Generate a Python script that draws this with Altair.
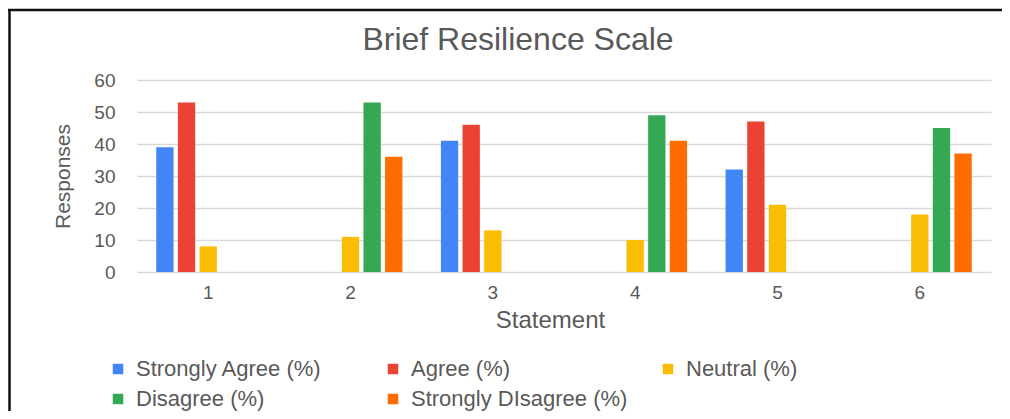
import altair as alt
import pandas as pd

statements = ["1", "2", "3", "4", "5", "6"]
series = ["Strongly Agree (%)", "Agree (%)", "Neutral (%)", "Disagree (%)", "Strongly DIsagree (%)"]
colors = ["#4285F4", "#EA4335", "#FBBC04", "#34A853", "#FF6D01"]

strongly_agree = [39, 0, 41, 0, 32, 0]
agree = [53, 0, 46, 0, 47, 0]
neutral = [8, 11, 13, 10, 21, 18]
disagree = [0, 53, 0, 49, 0, 45]
strongly_disagree = [0, 36, 0, 41, 0, 37]

y_ticks = [0, 10, 20, 30, 40, 50, 60]
chart_title = "Brief Resilience Scale"

rows = []
for s, vals in zip(series, [strongly_agree, agree, neutral, disagree, strongly_disagree]):
    for st, v in zip(statements, vals):
        rows.append({"Statement": st, "Series": s, "Value": v})
df = pd.DataFrame(rows)

FONT = "Liberation Sans"
GREY = "#595959"

W, H = 854, 192
PAD = {"left": 129, "top": 72, "right": 11, "bottom": 139}

bars = alt.Chart(df).mark_bar().encode(
    x=alt.X(
        "Statement:N",
        sort=statements,
        scale=alt.Scale(paddingInner=0.24, paddingOuter=0.12),
        axis=alt.Axis(
            title="Statement", labelAngle=0, ticks=False, domain=False,
            labelPadding=11, labelFontSize=19, labelColor=GREY,
            titleFontSize=24, titleColor=GREY, titleFontWeight="normal",
            titleX=413, titleY=48, titleBaseline="middle", titleAlign="center",
        ),
    ),
    xOffset=alt.XOffset(
        "Series:N", sort=series,
        scale=alt.Scale(paddingInner=0.2, paddingOuter=0.1),
    ),
    y=alt.Y(
        "Value:Q",
        scale=alt.Scale(domain=[0, 60]),
        axis=alt.Axis(
            values=y_ticks, title="Responses", ticks=False, domain=False,
            grid=True, gridColor="#d9d9d9", gridWidth=1.5,
            labelPadding=22, labelFontSize=19, labelColor=GREY,
            titleFontSize=21, titleColor=GREY, titleFontWeight="normal",
            titleX=-74, titleY=96, titleAngle=-90,
            titleAlign="center", titleBaseline="middle",
        ),
    ),
    color=alt.Color(
        "Series:N",
        sort=series,
        scale=alt.Scale(domain=series, range=colors),
        legend=alt.Legend(
            title=None, orient="none", legendX=-30, legendY=278,
            direction="horizontal", columns=3, gridAlign="all",
            columnPadding=29, rowPadding=8, symbolType="square",
            symbolSize=110, symbolStrokeWidth=0, labelFontSize=22,
            labelColor=GREY, labelOffset=7, labelLimit=400, padding=0,
        ),
    ),
)

frame_df = pd.DataFrame({"k": [0]})
top_line = alt.Chart(frame_df).mark_rule(color="#111", strokeWidth=2.5).encode(
    x=alt.value(-129), x2=alt.value(W + 11), y=alt.value(-70)
)
left_line = alt.Chart(frame_df).mark_rule(color="#111", strokeWidth=2.5).encode(
    x=alt.value(-127.5), y=alt.value(-71), y2=alt.value(H + 139)
)
title_text = alt.Chart(frame_df).mark_text(
    font=FONT, fontSize=32, color=GREY, align="center", baseline="alphabetic"
).encode(x=alt.value(381), y=alt.value(-30), text=alt.value(chart_title))

chart = alt.layer(bars, top_line, left_line, title_text).properties(
    width=W,
    height=H,
    autosize=alt.AutoSizeParams(type="none"),
    padding=PAD,
).configure(font=FONT).configure_view(stroke=None)

chart.save("out.html", embed_options={"renderer": "svg", "actions": False})
